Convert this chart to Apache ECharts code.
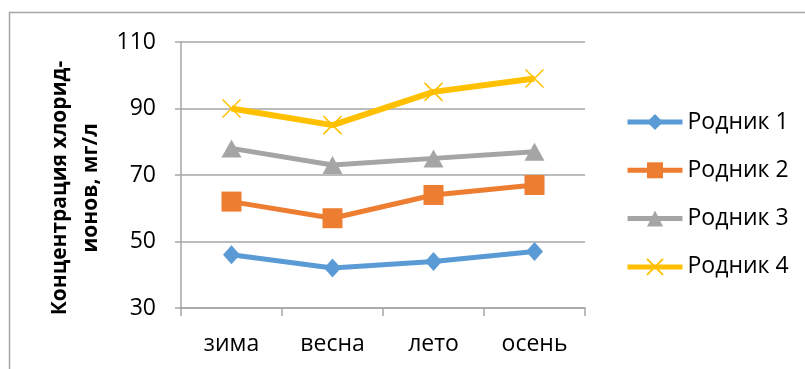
<!DOCTYPE html>
<html>
<head>
<meta charset="utf-8">
<script src="https://cdn.jsdelivr.net/npm/echarts@6/dist/echarts.min.js"></script>
<style>
  html, body { margin: 0; padding: 0; background: #fff; }
  #chart { width: 805px; height: 369px; }
</style>
</head>
<body>
<div id="chart"></div>
<script>
// Seasons along the horizontal axis
const seasons = ['зима', 'весна', 'лето', 'осень'];

// Chloride-ion concentration per spring, mg/l
const spring1 = [46, 42, 44, 47];
const spring2 = [62, 57, 64, 67];
const spring3 = [78, 73, 75, 77];
const spring4 = [90, 85, 95, 99];

const seriesNames = ['Родник 1', 'Родник 2', 'Родник 3', 'Родник 4'];
const yTicks = [30, 50, 70, 90, 110];

const FONT = '"Open Sans", "Liberation Sans", sans-serif';
const AXIS_GREY = '#a6a6a6';

const crossPath = 'path://M0,0L10,10M10,0L0,10';

function lineSeries(name, data, color, symbol, size, extra) {
  return Object.assign({
    name: name,
    type: 'line',
    data: data,
    symbol: symbol,
    symbolSize: size,
    lineStyle: { color: color, width: 5 },
    itemStyle: { color: color },
    emphasis: { disabled: true },
    animation: false
  }, extra || {});
}

const chart = echarts.init(document.getElementById('chart'));
chart.setOption({
  animation: false,
  backgroundColor: '#fff',
  grid: { left: 181, right: 220, top: 42, bottom: 61, containLabel: false },
  xAxis: {
    type: 'category',
    data: seasons,
    boundaryGap: true,
    axisLine: { lineStyle: { color: AXIS_GREY, width: 1.5 } },
    axisTick: { show: true, length: 8, lineStyle: { color: AXIS_GREY, width: 1.5 } },
    axisLabel: { color: '#000', fontSize: 23, fontFamily: FONT, margin: 25 }
  },
  yAxis: {
    type: 'value',
    min: yTicks[0],
    max: yTicks[yTicks.length - 1],
    interval: 20,
    axisLine: { show: true, lineStyle: { color: AXIS_GREY, width: 1.5 } },
    axisTick: { show: true, length: 6, lineStyle: { color: AXIS_GREY, width: 1.5 } },
    splitLine: { lineStyle: { color: AXIS_GREY, width: 1.5 } },
    axisLabel: { color: '#000', fontSize: 23, fontFamily: FONT, margin: 25 }
  },
  legend: {
    orient: 'vertical',
    left: 620,
    top: 103,
    itemWidth: 55,
    itemHeight: 20,
    itemGap: 20.3,
    itemTextGap: 8,
    lineStyle: { width: 5 },
    textStyle: { color: '#000', fontSize: 23, fontFamily: FONT, lineHeight: 28 },
    data: seriesNames
  },
  series: [
    lineSeries(seriesNames[0], spring1, '#5B9BD5', 'diamond', [17, 19]),
    lineSeries(seriesNames[1], spring2, '#ED7D31', 'rect', 20),
    lineSeries(seriesNames[2], spring3, '#A5A5A5', 'triangle', [20, 18]),
    lineSeries(seriesNames[3], spring4, '#FFC000', crossPath, 18, {
      lineStyle: { color: '#FFC000', width: 6 },
      itemStyle: { color: '#FFC000', borderColor: '#FFC000', borderWidth: 1.5 }
    })
  ],
  graphic: [
    {
      type: 'rect',
      silent: true,
      shape: { x: 9.5, y: 12.5, width: 900, height: 500 },
      style: { fill: 'none', stroke: AXIS_GREY, lineWidth: 1.5 },
      z: -1
    },
    {
      type: 'text',
      silent: true,
      x: 76,
      y: 188,
      rotation: Math.PI / 2,
      style: {
        text: 'Концентрация хлорид-\nионов, мг/л',
        fontSize: 21,
        fontWeight: 'bold',
        fontFamily: FONT,
        fill: '#000',
        align: 'center',
        verticalAlign: 'middle',
        lineHeight: 31
      }
    }
  ]
});
</script>
</body>
</html>
